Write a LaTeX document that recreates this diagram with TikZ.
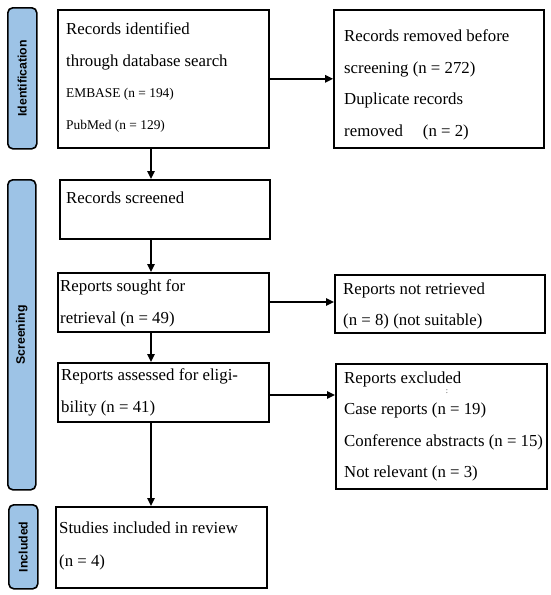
\documentclass[tikz,border=0pt]{standalone}
\usepackage{fontspec}
\setmainfont{Liberation Serif}
\newfontfamily\labelfont{Liberation Sans}
\usetikzlibrary{arrows.meta}
\definecolor{sideblue}{RGB}{157,195,230}
\tikzset{
  box/.style={draw=black, line width=1.6pt, fill=white, rectangle, inner sep=0pt, anchor=north west},
  side/.style={draw=black, line width=1.6pt, fill=sideblue, rectangle, rounded corners=5pt, inner sep=0pt, anchor=north west},
  sidetxt/.style={rotate=90, font=\labelfont\bfseries\fontsize{12.3}{12}\selectfont, inner sep=0pt},
  txt/.style={anchor=north west, inner sep=0pt, align=left, font=\fontsize{16.8}{31.5}\selectfont},
  arr/.style={line width=1.6pt, -{Triangle[length=8pt,width=7.5pt]}},
}
\newcommand{\smalltxt}{\fontsize{13.4}{31.5}\selectfont}
\begin{document}
\begin{tikzpicture}[x=1pt,y=-1pt]
\useasboundingbox (0,0) rectangle (550,595);
% side labels
\node[side, minimum width=29pt, minimum height=141pt] (idside) at (7,7) {};
\node[sidetxt] at (idside.center) {Identification};
\node[side, minimum width=28pt, minimum height=310pt] (scrside) at (7,179) {};
\node[sidetxt] at (scrside.center) {Screening};
\node[side, minimum width=29pt, minimum height=84pt] (incside) at (8,504) {};
\node[sidetxt] at (incside.center) {Included};
% boxes
\node[box, minimum width=211pt, minimum height=138pt] (ident) at (57,9) {};
\node[box, minimum width=210pt, minimum height=138pt] (rem) at (333,9) {};
\node[box, minimum width=210pt, minimum height=59pt] (scr) at (59,179) {};
\node[box, minimum width=211pt, minimum height=59pt] (sought) at (57,272) {};
\node[box, minimum width=210pt, minimum height=58pt] (notret) at (334,274) {};
\node[box, minimum width=211pt, minimum height=59pt] (assess) at (57,362) {};
\node[box, minimum width=211pt, minimum height=125pt] (excl) at (335,363) {};
\node[box, minimum width=211pt, minimum height=81pt] (incl) at (55,506) {};
% texts
\node[txt] (identtxt) at (66,22.5) {Records identified\\through database search\\{\smalltxt EMBASE (n = 194)}\\{\smalltxt PubMed (n = 129)}};
\node[txt] (remtxt) at (344,29.5) {Records removed before\\screening (n = 272)\\Duplicate records\\removed\hspace{20pt}(n = 2)};
\node[txt] (scrtxt) at (66,191.5) {Records screened};
\node[txt] (soughttxt) at (60,279.5) {Reports sought for\\retrieval (n = 49)};
\node[txt] (notrettxt) at (343,282.5) {Reports not retrieved\\(n = 8) (not suitable)};
\node[txt] (assesstxt) at (61,368.5) {Reports assessed for eligi-\\bility (n = 41)};
\node[txt] (excltxt) at (344,371.5) {Reports excluded\\Case reports (n = 19)\\Conference abstracts (n = 15)\\Not relevant (n = 3)};
\node[inner sep=0pt, font=\fontsize{8}{8}\selectfont, text=black!80] (dots) at (447,392) {:};
\node[txt, font=\fontsize{16.8}{33}\selectfont] (incltxt) at (59,521.5) {Studies included in review\\(n = 4)};
% connectors
\coordinate (col) at (151,0);
\draw[arr] (ident.south -| col) -- (scr.north -| col);
\draw[arr] (scr.south -| col) -- (sought.north -| col);
\draw[arr] (sought.south -| col) -- (assess.north -| col);
\draw[arr] (assess.south -| col) -- (incl.north -| col);
\draw[arr] (ident.east) -- (ident.east -| rem.west);
\coordinate (nrrow) at (0,302);
\draw[arr] (sought.east |- nrrow) -- (notret.west |- nrrow);
\coordinate (exrow) at (0,395);
\draw[arr] (assess.east |- exrow) -- (excl.west |- exrow);
\end{tikzpicture}
\end{document}
